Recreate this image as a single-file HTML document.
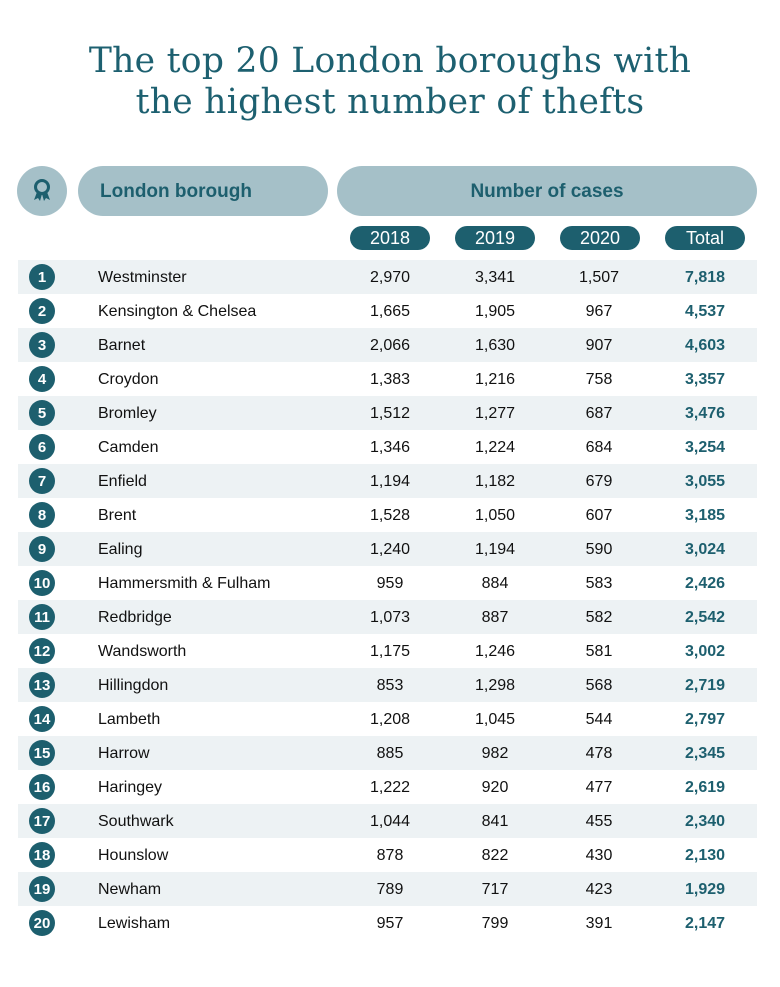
<!DOCTYPE html>
<html><head><meta charset="utf-8"><style>
body{margin:0;width:780px;height:987px;background:#fff;font-family:"Liberation Sans",sans-serif;position:relative;overflow:hidden}
.t{position:absolute;left:0;width:780px;text-align:center;color:#1d6070;font-family:"DejaVu Serif","Liberation Serif",serif;font-size:34.5px;letter-spacing:0.3px}
.a{position:absolute}
.pill{position:absolute;background:#a5c0c8;border-radius:25px;color:#1d5f6e;font-weight:bold;font-size:19px;line-height:52px}
.yp{position:absolute;top:226px;width:80px;height:24px;border-radius:12px;background:#1d5f6e;color:#fff;text-align:center;font-size:18px;line-height:25px}
.row{position:absolute;left:18px;width:739px;height:34px;font-size:16px;color:#111;line-height:35px}
.row.s{background:#edf2f4}
.row .c{position:absolute;left:11px;top:4px;width:26px;height:26px;border-radius:50%;background:#1d5f6e;color:#fff;text-align:center;line-height:27px;font-size:15px;font-weight:bold}
.row .n{position:absolute;left:80px}
.row .v{position:absolute;width:90px;text-align:center}
.row .tot{color:#1d5f6e;font-weight:bold}
</style></head><body>
<div class="t" style="top:41px">The top 20 London boroughs with</div>
<div class="t" style="top:82px">the highest number of thefts</div>
<div class="a" style="left:17px;top:166px;width:50px;height:50px;border-radius:50%;background:#a5c0c8"></div>
<svg class="a" style="left:30px;top:178px" width="24" height="26" viewBox="0 0 24 26"><circle cx="12" cy="9" r="6.5" fill="none" stroke="#1d5f6e" stroke-width="3"/><path d="M7 14 L4 22 L8 20 L10 23 L12 16 L14 23 L16 20 L20 22 L17 14" fill="#1d5f6e"/></svg>
<div class="pill" style="left:78px;top:166px;width:250px;height:50px"><span style="margin-left:22px">London borough</span></div>
<div class="pill" style="left:337px;top:166px;width:420px;height:50px;text-align:center">Number of cases</div>
<div class="yp" style="left:350px">2018</div>
<div class="yp" style="left:455px">2019</div>
<div class="yp" style="left:560px">2020</div>
<div class="yp" style="left:665px">Total</div>
<div id="rows"></div>
<script>
var d=[["Westminster","2,970","3,341","1,507","7,818"],["Kensington & Chelsea","1,665","1,905","967","4,537"],["Barnet","2,066","1,630","907","4,603"],["Croydon","1,383","1,216","758","3,357"],["Bromley","1,512","1,277","687","3,476"],["Camden","1,346","1,224","684","3,254"],["Enfield","1,194","1,182","679","3,055"],["Brent","1,528","1,050","607","3,185"],["Ealing","1,240","1,194","590","3,024"],["Hammersmith & Fulham","959","884","583","2,426"],["Redbridge","1,073","887","582","2,542"],["Wandsworth","1,175","1,246","581","3,002"],["Hillingdon","853","1,298","568","2,719"],["Lambeth","1,208","1,045","544","2,797"],["Harrow","885","982","478","2,345"],["Haringey","1,222","920","477","2,619"],["Southwark","1,044","841","455","2,340"],["Hounslow","878","822","430","2,130"],["Newham","789","717","423","1,929"],["Lewisham","957","799","391","2,147"]];
var h="";d.forEach(function(r,i){h+='<div class="row'+(i%2==0?' s':'')+'" style="top:'+(260+i*34)+'px"><div class="c">'+(i+1)+'</div><div class="n">'+r[0].replace("&","&amp;")+'</div><div class="v" style="left:327px">'+r[1]+'</div><div class="v" style="left:432px">'+r[2]+'</div><div class="v" style="left:536px">'+r[3]+'</div><div class="v tot" style="left:642px">'+r[4]+'</div></div>';});
document.getElementById("rows").innerHTML=h;
</script>
</body></html>
